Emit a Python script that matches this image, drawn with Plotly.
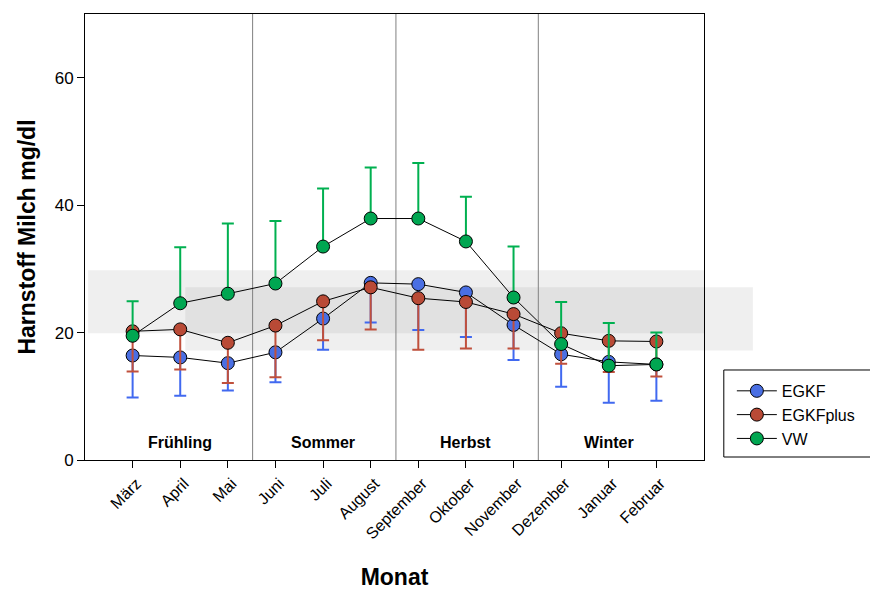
import plotly.graph_objects as go

months = ["März", "April", "Mai", "Juni", "Juli", "August", "September",
          "Oktober", "November", "Dezember", "Januar", "Februar"]

egkf = [16.4, 16.1, 15.2, 16.9, 22.2, 27.8, 27.6, 26.3, 21.2, 16.6, 15.4, 15.0]
egkf_low = [9.8, 10.1, 10.9, 12.2, 17.3, 21.6, 20.4, 19.3, 15.7, 11.5, 9.0, 9.3]

egkfplus = [20.2, 20.5, 18.4, 21.1, 24.9, 27.1, 25.4, 24.8, 22.9, 19.9, 18.7, 18.6]
egkfplus_low = [13.9, 14.2, 12.1, 13.0, 18.8, 20.5, 17.3, 17.5, 17.5, 15.1, 13.8, 13.1]

vw = [19.5, 24.6, 26.1, 27.7, 33.5, 37.9, 37.9, 34.3, 25.5, 18.2, 14.8, 15.0]
vw_high = [24.9, 33.4, 37.1, 37.5, 42.6, 45.9, 46.6, 41.3, 33.5, 24.8, 21.5, 20.0]

seasons = ["Frühling", "Sommer", "Herbst", "Winter"]
season_centers = [1, 4, 7, 10]
season_bounds = [2.52, 5.53, 8.52]

# reference bands (y ranges)
band_a = (19.9, 29.8)
band_b = (17.2, 27.1)

x_idx = list(range(len(months)))

fig = go.Figure()

def add_series(name, y, lo, hi, marker_color, err_color):
    plus = [h - v for h, v in zip(hi, y)]
    minus = [v - l for v, l in zip(y, lo)]
    fig.add_trace(go.Scatter(
        x=x_idx, y=y, name=name, mode="lines+markers",
        line=dict(color="black", width=1),
        marker=dict(size=13, color=marker_color, line=dict(color="black", width=1)),
        error_y=dict(type="data", symmetric=False, array=plus, arrayminus=minus,
                     color=err_color, thickness=2, width=6),
    ))

add_series("EGKF", egkf, egkf_low, egkf, "#4a6fe3", "#4169f0")
add_series("EGKFplus", egkfplus, egkfplus_low, egkfplus, "#b94a36", "#c0503c")
add_series("VW", vw, vw, vw_high, "#00a651", "#00b050")

shapes = [
    dict(type="rect", xref="paper", yref="y", x0=0.005, x1=1.0,
         y0=band_a[0], y1=band_a[1], fillcolor="rgba(128,128,128,0.13)",
         line=dict(width=0), layer="below"),
    dict(type="rect", xref="paper", yref="y", x0=0.162, x1=1.079,
         y0=band_b[0], y1=band_b[1], fillcolor="rgba(128,128,128,0.13)",
         line=dict(width=0), layer="below"),
    # legend frame
    dict(type="rect", xref="paper", yref="paper", x0=1.032, x1=1.35,
         y0=0.0067, y1=0.2018, fillcolor="rgba(0,0,0,0)",
         line=dict(color="black", width=1), layer="above"),
]
for b in season_bounds:
    shapes.append(dict(type="line", xref="x", yref="y", x0=b, x1=b, y0=0, y1=70,
                       line=dict(color="#808080", width=1), layer="below"))

annotations = [
    dict(x=c, y=2.7, xref="x", yref="y", text=f"<b>{s}</b>", showarrow=False,
         font=dict(size=16, color="black", family="Liberation Sans, Arial"))
    for s, c in zip(seasons, season_centers)
]

fig.update_layout(
    width=870, height=590,
    margin=dict(l=85, r=166, t=14, b=130, autoexpand=False),
    paper_bgcolor="white", plot_bgcolor="white",
    font=dict(family="Liberation Sans, Arial", size=15, color="black"),
    shapes=shapes, annotations=annotations,
    showlegend=True,
    legend=dict(x=1.045, y=0.193, xanchor="left", yanchor="top",
                borderwidth=0, bgcolor="rgba(0,0,0,0)",
                font=dict(size=16), tracegroupgap=0, itemwidth=40),
    xaxis=dict(range=[-1, 12], tickmode="array", tickvals=x_idx, ticktext=months,
               tickangle=-45, ticks="outside", ticklen=7, tickcolor="black",
               showline=True, linecolor="black", linewidth=1, mirror=True,
               showgrid=False, zeroline=False, tickfont=dict(size=16),
               ticklabelshift=4, automargin=False,
               title=dict(text="<b>Monat</b>", font=dict(size=23), standoff=27)),
    yaxis=dict(range=[0, 70], tickvals=[0, 20, 40, 60], ticks="outside", ticklen=7,
               tickcolor="black", showline=True, linecolor="black", linewidth=1,
               mirror=True, showgrid=False, zeroline=False, tickfont=dict(size=17),
               automargin=False,
               title=dict(text="<b>Harnstoff Milch mg/dl</b>", font=dict(size=23),
                          standoff=12)),
)

fig.write_html("out.html")
